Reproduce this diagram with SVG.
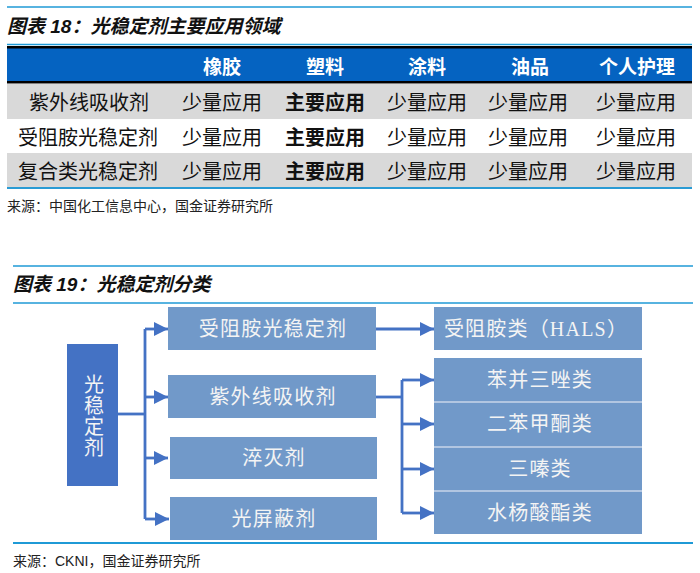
<svg xmlns="http://www.w3.org/2000/svg" width="700" height="573" viewBox="0 0 700 573">
<style>
.rule{stroke:#1f9ad6;stroke-width:1.6;fill:none}
.title{font-family:"Liberation Sans","Noto Sans CJK SC",sans-serif;font-size:19px;font-weight:bold;font-style:italic;fill:#111}
.src{font-family:"Liberation Sans","Noto Sans CJK SC",sans-serif;font-size:14px;fill:#222}
.hd{font-family:"Liberation Sans","Noto Sans CJK SC",sans-serif;font-size:19px;font-weight:bold;fill:#fff;text-anchor:middle}
.cell{font-family:"Liberation Sans","Noto Sans CJK SC",sans-serif;font-size:20px;fill:#111;text-anchor:middle}
.b{font-weight:bold}
.box{fill:#7199c9}
.main{fill:#4472c4}
.bt{font-family:"Liberation Serif","Noto Sans CJK SC",serif;font-size:20px;fill:#f4f4f4;text-anchor:middle;letter-spacing:1.2px}
.vt{font-family:"Liberation Serif","Noto Sans CJK SC",serif;font-size:20px;fill:#f4f4f4;writing-mode:vertical-rl;letter-spacing:1.2px}
.conn{stroke:#4472c4;stroke-width:2.8;fill:none}
.sep{stroke:#c9d6e8;stroke-width:1.5}
</style>
<defs>
<marker id="ah" viewBox="0 0 14 14" refX="14" refY="7" markerWidth="14" markerHeight="14" markerUnits="userSpaceOnUse" orient="auto">
<path d="M0,0 L14,7 L0,14 z" fill="#4472c4"/>
</marker>
</defs>

<!-- Table 18 -->
<g id="table18">
<line class="rule" x1="7" y1="7" x2="692" y2="7"/>
<text class="title" x="7" y="33">图表 18：光稳定剂主要应用领域</text>
<line class="rule" x1="7" y1="44.5" x2="692" y2="44.5"/>
<rect x="7" y="46" width="685" height="37.5" fill="#000"/>
<rect x="7" y="48.5" width="685" height="32.5" fill="#0563c1"/>
<text class="hd" x="222" y="74">橡胶</text>
<text class="hd" x="325" y="74">塑料</text>
<text class="hd" x="427" y="74">涂料</text>
<text class="hd" x="530" y="74">油品</text>
<text class="hd" x="637" y="74">个人护理</text>
<rect x="7" y="84" width="685" height="35" fill="#d9d9d9"/>
<rect x="7" y="153" width="685" height="34" fill="#d9d9d9"/>
<line x1="7" y1="188" x2="692" y2="188" stroke="#2a9bd4" stroke-width="2"/>
<g>
<text class="cell" x="89" y="110">紫外线吸收剂</text>
<text class="cell" x="222" y="110">少量应用</text>
<text class="cell b" x="325" y="110">主要应用</text>
<text class="cell" x="427" y="110">少量应用</text>
<text class="cell" x="528" y="110">少量应用</text>
<text class="cell" x="636" y="110">少量应用</text>
</g>
<g>
<text class="cell" x="88" y="145">受阻胺光稳定剂</text>
<text class="cell" x="222" y="145">少量应用</text>
<text class="cell b" x="325" y="145">主要应用</text>
<text class="cell" x="427" y="145">少量应用</text>
<text class="cell" x="528" y="145">少量应用</text>
<text class="cell" x="636" y="145">少量应用</text>
</g>
<g>
<text class="cell" x="88" y="179">复合类光稳定剂</text>
<text class="cell" x="222" y="179">少量应用</text>
<text class="cell b" x="325" y="179">主要应用</text>
<text class="cell" x="427" y="179">少量应用</text>
<text class="cell" x="528" y="179">少量应用</text>
<text class="cell" x="636" y="179">少量应用</text>
</g>
<text class="src" x="7" y="211">来源：中国化工信息中心，国金证券研究所</text>
</g>

<!-- Figure 19 -->
<line class="rule" x1="13" y1="266" x2="693" y2="266"/>
<text class="title" x="13" y="291">图表 19：光稳定剂分类</text>
<line class="rule" x1="13" y1="303" x2="693" y2="303"/>

<g id="connectors">
<path class="conn" d="M118,414 H145"/>
<path class="conn" d="M145,329 V519"/>
<path class="conn" d="M145,329 H168" marker-end="url(#ah)"/>
<path class="conn" d="M145,397 H168" marker-end="url(#ah)"/>
<path class="conn" d="M145,458 H168" marker-end="url(#ah)"/>
<path class="conn" d="M145,519 H169" marker-end="url(#ah)"/>
<path class="conn" d="M375,329 H434" marker-end="url(#ah)"/>
<path class="conn" d="M376,397 H402"/>
<path class="conn" d="M402,380 V513"/>
<path class="conn" d="M402,380 H434" marker-end="url(#ah)"/>
<path class="conn" d="M402,424 H434" marker-end="url(#ah)"/>
<path class="conn" d="M402,469 H434" marker-end="url(#ah)"/>
<path class="conn" d="M402,513 H434" marker-end="url(#ah)"/>
</g>

<g id="n-main">
<rect class="main" x="67" y="344" width="51" height="142"/>
<text class="vt" x="92.5" y="374">光稳定剂</text>
</g>
<g id="n-hals-agent">
<rect class="box" x="168" y="307" width="208" height="43"/>
<text class="bt" x="273" y="336">受阻胺光稳定剂</text>
</g>
<g id="n-uv">
<rect class="box" x="168" y="375" width="208" height="43"/>
<text class="bt" x="273" y="404">紫外线吸收剂</text>
</g>
<g id="n-quench">
<rect class="box" x="170" y="437" width="207" height="42"/>
<text class="bt" x="274" y="465">淬灭剂</text>
</g>
<g id="n-shield">
<rect class="box" x="170" y="497" width="207" height="43"/>
<text class="bt" x="274" y="526">光屏蔽剂</text>
</g>
<g id="n-hals">
<rect class="box" x="434" y="307" width="208" height="43"/>
<text class="bt" x="536" y="336">受阻胺类（HALS）</text>
</g>
<g id="n-bzt">
<rect class="box" x="434" y="358" width="208" height="44"/>
<text class="bt" x="540" y="387">苯并三唑类</text>
</g>
<g id="n-bp">
<rect class="box" x="434" y="402" width="208" height="45"/>
<text class="bt" x="540" y="431">二苯甲酮类</text>
</g>
<g id="n-triazine">
<rect class="box" x="434" y="447" width="208" height="44"/>
<text class="bt" x="540" y="476">三嗪类</text>
</g>
<g id="n-salicylate">
<rect class="box" x="434" y="491" width="208" height="43"/>
<text class="bt" x="540" y="520">水杨酸酯类</text>
</g>
<line class="sep" x1="434" y1="402" x2="642" y2="402"/>
<line class="sep" x1="434" y1="447" x2="642" y2="447"/>
<line class="sep" x1="434" y1="491" x2="642" y2="491"/>

<line x1="13" y1="543" x2="693" y2="543" stroke="#1f9ad6" stroke-width="2"/>
<text class="src" x="13" y="566">来源：CKNI，国金证券研究所</text>
</svg>
